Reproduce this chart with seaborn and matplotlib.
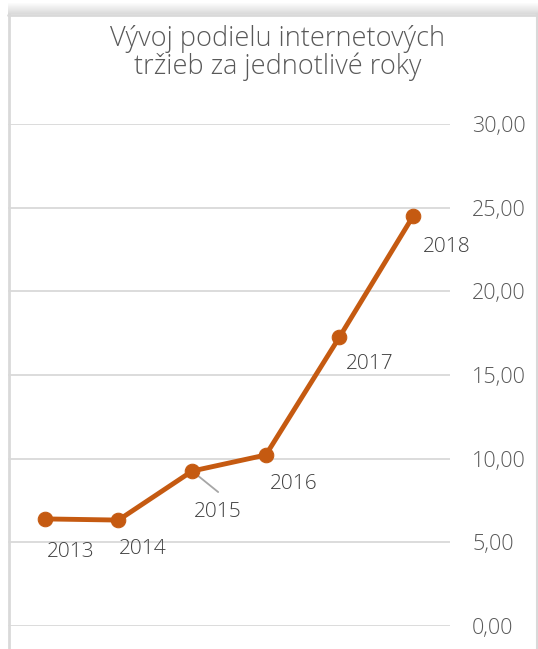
import numpy as np
import pandas as pd
import seaborn as sns
import matplotlib.pyplot as plt
from matplotlib.patches import Rectangle

# data
years = ["2013", "2014", "2015", "2016", "2017", "2018"]
share = [6.4, 6.33, 9.26, 10.22, 17.27, 24.5]
# label offsets in pixels (dx, dy) relative to each point
label_dx = [26, 24, 26, 28, 30, 34]
label_dy = [-33, -29, -41, -29, -27, -31]
yticks = [0, 5, 10, 15, 20, 25, 30]

df = pd.DataFrame({"rok": years, "podiel": share})

sns.set_style("white")
plt.rcParams["font.family"] = ["Open Sans", "DejaVu Sans"]
plt.rcParams["font.weight"] = "light"

W, H = 538, 649
fig = plt.figure(figsize=(W / 100, H / 100), dpi=100)
ax = fig.add_axes([8 / W, 1 - 626 / H, 442 / W, 502 / H])

line_col = "#C55A11"
sns.lineplot(data=df, x="rok", y="podiel", ax=ax, color=line_col, linewidth=3.5,
             marker="o", markersize=10.5, markeredgecolor=line_col, sort=False)

ax.set_xlim(-0.5, 5.5)
ax.set_ylim(0, 30)
ax.set_yticks(yticks)
ax.set_yticklabels([f"{v:.2f}".replace(".", ",") for v in yticks])
ax.yaxis.tick_right()
ax.tick_params(axis="y", length=0, pad=16, labelsize=15.5, labelcolor="#595959")
ax.set_xticks([])
ax.set_xlabel("")
ax.set_ylabel("")
ax.grid(axis="y", color="#D9D9D9", linewidth=1.3)
ax.set_axisbelow(True)
for s in ax.spines.values():
    s.set_visible(False)

for i, (yr, v) in enumerate(zip(years, share)):
    ax.annotate(yr, xy=(i, v), xytext=(label_dx[i], label_dy[i]), textcoords="offset pixels",
                ha="center", va="center", fontsize=15, color="#404040")
    if yr == "2015":
        # leader line from the point towards its label
        ax.annotate("", xy=(i, v), xytext=(26, -21), textcoords="offset pixels",
                    arrowprops=dict(arrowstyle="-", color="#A6A6A6", lw=1.3,
                                    shrinkA=0, shrinkB=2), zorder=1)

fig.text(278 / W, 1 - 53 / H, "Vývoj podielu internetových\ntržieb za jednotlivé roky",
         ha="center", va="center", fontsize=19.5, color="#595959", linespacing=0.95)

# chart frame and shadow on top
for k in range(11):
    a = 0.03 + 0.025 * k
    fig.patches.append(Rectangle((8 / W, 1 - (4 + k) / H), 1, 1 / H, transform=fig.transFigure,
                                 facecolor="#808080", alpha=a, edgecolor="none"))
fig.add_artist(plt.Line2D([8.5 / W, 8.5 / W], [0, 1 - 14 / H], transform=fig.transFigure,
                          color="#D9D9D9", lw=2))
fig.add_artist(plt.Line2D([8 / W, 1], [1 - 14.5 / H, 1 - 14.5 / H], transform=fig.transFigure,
                          color="#D9D9D9", lw=2))
fig.add_artist(plt.Line2D([536.5 / W, 536.5 / W], [0, 1 - 14 / H], transform=fig.transFigure,
                          color="#D9D9D9", lw=1.5))

fig.savefig("out.png", dpi=100)
